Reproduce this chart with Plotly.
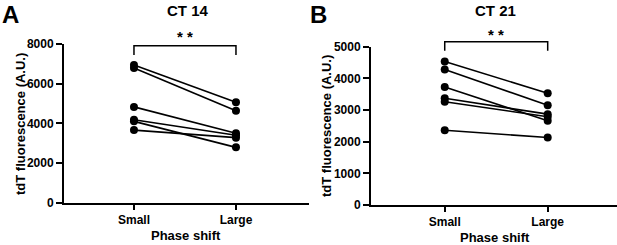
import plotly.graph_objects as go

categories = ["Small", "Large"]
ct14_small = [6940, 6790, 4830, 4180, 4100, 3660]
ct14_large = [5060, 4640, 3500, 3400, 2790, 3280]
ct21_small = [4530, 4280, 3730, 3370, 3260, 2360]
ct21_large = [3530, 3150, 2660, 2870, 2790, 2130]
yticks_a = [0, 2000, 4000, 6000, 8000]
yticks_b = [0, 1000, 2000, 3000, 4000, 5000]

W, H = 617, 245
FONT = "Arial, Liberation Sans, sans-serif"

def px(x):
    return x / W

def py(y):
    return (H - y) / H

fig = go.Figure()
for s, l in zip(ct14_small, ct14_large):
    fig.add_trace(go.Scatter(x=[0, 1], y=[s, l], mode="lines+markers",
                             line=dict(color="black", width=1.6),
                             marker=dict(color="black", size=8),
                             xaxis="x", yaxis="y", showlegend=False, cliponaxis=False))
for s, l in zip(ct21_small, ct21_large):
    fig.add_trace(go.Scatter(x=[0, 1], y=[s, l], mode="lines+markers",
                             line=dict(color="black", width=1.6),
                             marker=dict(color="black", size=8),
                             xaxis="x2", yaxis="y2", showlegend=False, cliponaxis=False))

axis_common = dict(showline=True, linecolor="black", linewidth=2, ticks="outside",
                   tickwidth=2, tickcolor="black", showgrid=False, zeroline=False,
                   automargin=False,
                   tickfont=dict(family=FONT, size=12, color="black", weight="bold"))

fig.update_layout(
    width=W, height=H, margin=dict(l=0, r=0, t=0, b=0, autoexpand=False),
    plot_bgcolor="white", paper_bgcolor="white",
    xaxis=dict(domain=[px(64), px(309)], range=[-0.686, 1.716], tickvals=[0, 1],
               ticktext=categories, ticklen=5, anchor="y", **axis_common),
    yaxis=dict(domain=[py(202.7), py(44)], range=[0, 8000], tickvals=yticks_a,
               ticklen=6, anchor="x", **axis_common),
    xaxis2=dict(domain=[px(371), 1.0], range=[-0.716, 1.673], tickvals=[0, 1],
                ticktext=categories, ticklen=5, anchor="y2", **axis_common),
    yaxis2=dict(domain=[py(205), py(46.7)], range=[0, 5000], tickvals=yticks_b,
                ticklen=6, anchor="x2", **axis_common),
)

bold = lambda size: dict(family=FONT, size=size, color="black", weight="bold")
ann = [
    dict(text="A", x=px(0), y=py(14), xanchor="left", yanchor="middle", font=bold(24)),
    dict(text="B", x=px(308), y=py(14), xanchor="left", yanchor="middle", font=bold(24)),
    dict(text="CT 14", x=px(188), y=py(11), xanchor="center", yanchor="middle", font=bold(15)),
    dict(text="CT 21", x=px(495), y=py(10), xanchor="center", yanchor="middle", font=bold(15)),
    dict(text="tdT fluorescence (A.U.)", x=px(20), y=py(124), textangle=-90,
         xanchor="center", yanchor="middle", font=bold(13)),
    dict(text="tdT fluorescence (A.U.)", x=px(327), y=py(126), textangle=-90,
         xanchor="center", yanchor="middle", font=bold(13)),
    dict(text="Phase shift", x=px(186), y=py(235.5), xanchor="center", yanchor="middle", font=bold(13)),
    dict(text="Phase shift", x=px(495), y=py(237), xanchor="center", yanchor="middle", font=bold(13)),
]
for a in ann:
    a.update(xref="paper", yref="paper", showarrow=False)
# significance stars
ann.append(dict(text="* *", x=0.5, y=py(36), xref="x", yref="paper", showarrow=False,
                xanchor="center", yanchor="middle", font=bold(15)))
ann.append(dict(text="* *", x=0.5, y=py(34), xref="x2", yref="paper", showarrow=False,
                xanchor="center", yanchor="middle", font=bold(15)))
fig.update_layout(annotations=ann)

def bracket(xref, ytop, ybot):
    return dict(type="path", xref=xref, yref="paper",
                path=f"M 0 {ybot} L 0 {ytop} L 1 {ytop} L 1 {ybot}",
                line=dict(color="black", width=1.5))

fig.update_layout(shapes=[bracket("x", py(45.7), py(55)), bracket("x2", py(41.7), py(50.7))])

fig.write_html("out.html", config={"displayModeBar": False, "staticPlot": True})
with open("out.html", "r", encoding="utf-8") as f:
    html = f.read()
html = html.replace("<head>", "<head><style>html,body{margin:0;padding:0;overflow:hidden;}</style>", 1)
with open("out.html", "w", encoding="utf-8") as f:
    f.write(html)
